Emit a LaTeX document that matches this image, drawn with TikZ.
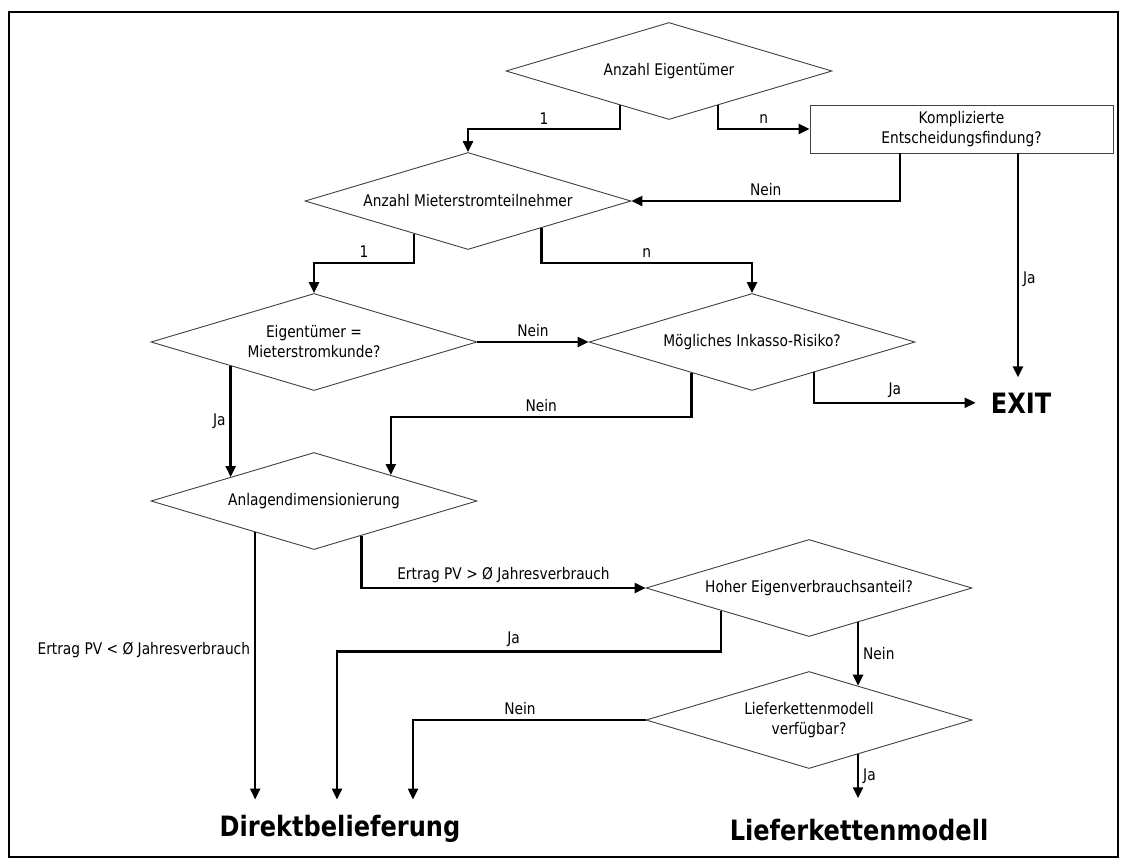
\documentclass[tikz,border=0pt]{standalone}
\usepackage{fontspec}
\setmainfont{DejaVu Sans}[FakeStretch=0.86]
\usepackage{tikz}
\usetikzlibrary{shapes.geometric,arrows.meta,calc}

\begin{document}
\begin{tikzpicture}[x=1pt, y=-1pt,
  question/.style={diamond, draw=black!75, line width=0.9pt, aspect=3.3, minimum width=326pt, minimum height=97pt, inner sep=0pt, align=center, font=\fontsize{16}{20}\selectfont},
  task/.style={draw=black!75, line width=0.9pt, minimum width=303pt, minimum height=48pt, inner sep=0pt, align=center, font=\fontsize{16}{20}\selectfont},
  result/.style={inner sep=15pt, anchor=base, font=\bfseries\fontsize{28}{32}\selectfont},
  lbl/.style={inner sep=4pt, font=\fontsize{16}{20}\selectfont},
  flow/.style={draw, line width=2.3pt, -{Triangle[length=11pt, width=10pt]}}]
\useasboundingbox (0,0) rectangle (1126,863);
\draw[line width=2pt] (9,12) rectangle (1118,857);

\node[question] (eigAnz) at (669,71) {Anzahl Eigentümer};
\node[task] (kompl) at (961.5,129) {Komplizierte\\Entscheidungsfindung?};
\node[question] (mieAnz) at (468,201) {Anzahl Mieterstromteilnehmer};
\node[question] (eigKunde) at (314,342) {Eigentümer =\\Mieterstromkunde?};
\node[question] (inkasso) at (752,342) {Mögliches Inkasso-Risiko?};
\node[question] (anlage) at (314,501) {Anlagendimensionierung};
\node[question] (eigVerb) at (809,588) {Hoher Eigenverbrauchsanteil?};
\node[question] (lkmVerf) at (809,720) {Lieferkettenmodell\\verfügbar?};
\node[result] (exit) at (1021,413) {EXIT};
\node[result] (direkt) at (340,836) {Direktbelieferung};
\node[result] (lkm) at (859,840) {Lieferkettenmodell};

% Eigentuemer
\draw[flow] ($(eigAnz.south)!.3!(eigAnz.west)$) -- ++(0,24) -| node[lbl, above, pos=.25] {1} (mieAnz.north);
\draw[flow] ($(eigAnz.south)!.3!(eigAnz.east)$) |- node[lbl, above, pos=.75] {n} (kompl.west);
\draw[flow] ([xshift=-61.5pt]kompl.south) |- node[lbl, above, pos=.75] {Nein} (mieAnz.east);
\draw[flow] ([xshift=56.5pt]kompl.south) -- node[lbl, right, pos=.56] {Ja} ([xshift=56.5pt]kompl.south |- exit.north);

% Mieterstromteilnehmer
\draw[flow] ($(mieAnz.south)!.33!(mieAnz.west)$) -- ++(0,29) -| node[lbl, above, pos=.25] {1} (eigKunde.north);
\draw[flow] ($(mieAnz.south)!.45!(mieAnz.east)$) -- ++(0,35) -| node[lbl, above, pos=.25] {n} (inkasso.north);
\draw[flow] (eigKunde.east) -- node[lbl, above] {Nein} (inkasso.west);
\draw[flow] ($(eigKunde.south)!.51!(eigKunde.west)$) -- node[lbl, left] {Ja} ($(anlage.north)!.51!(anlage.west)$);
\draw[flow] ($(inkasso.south)!.37!(inkasso.west)$) -- ++(0,44.5) -| node[lbl, above, pos=.25] {Nein} ($(anlage.north)!.47!(anlage.east)$);
\draw[flow] ($(inkasso.south)!.38!(inkasso.east)$) |- node[lbl, above, pos=.75] {Ja} (exit.west);

% Anlage
\coordinate (a1) at ($(anlage.south)!.36!(anlage.west)$);
\draw[flow] (a1) -- node[lbl, left, pos=.44] {Ertrag PV < Ø Jahresverbrauch} (a1 |- direkt.north);
\draw[flow] ($(anlage.south)!.29!(anlage.east)$) |- node[lbl, above, pos=.75] {Ertrag PV > Ø Jahresverbrauch} (eigVerb.west);
\draw[flow] ($(eigVerb.south)!.54!(eigVerb.west)$) -- ++(0,41) -| node[lbl, above, pos=.27] {Ja} ([xshift=-3pt]direkt.north);
\draw[flow] ($(eigVerb.south)!.3!(eigVerb.east)$) -- node[lbl, right] {Nein} ($(lkmVerf.north)!.3!(lkmVerf.east)$);
\draw[flow] (lkmVerf.west) -| node[lbl, above, pos=.27] {Nein} ([xshift=73pt]direkt.north);
\draw[flow] ($(lkmVerf.south)!.3!(lkmVerf.east)$) -- node[lbl, right] {Ja} ++(0,44);
\end{tikzpicture}
\end{document}
